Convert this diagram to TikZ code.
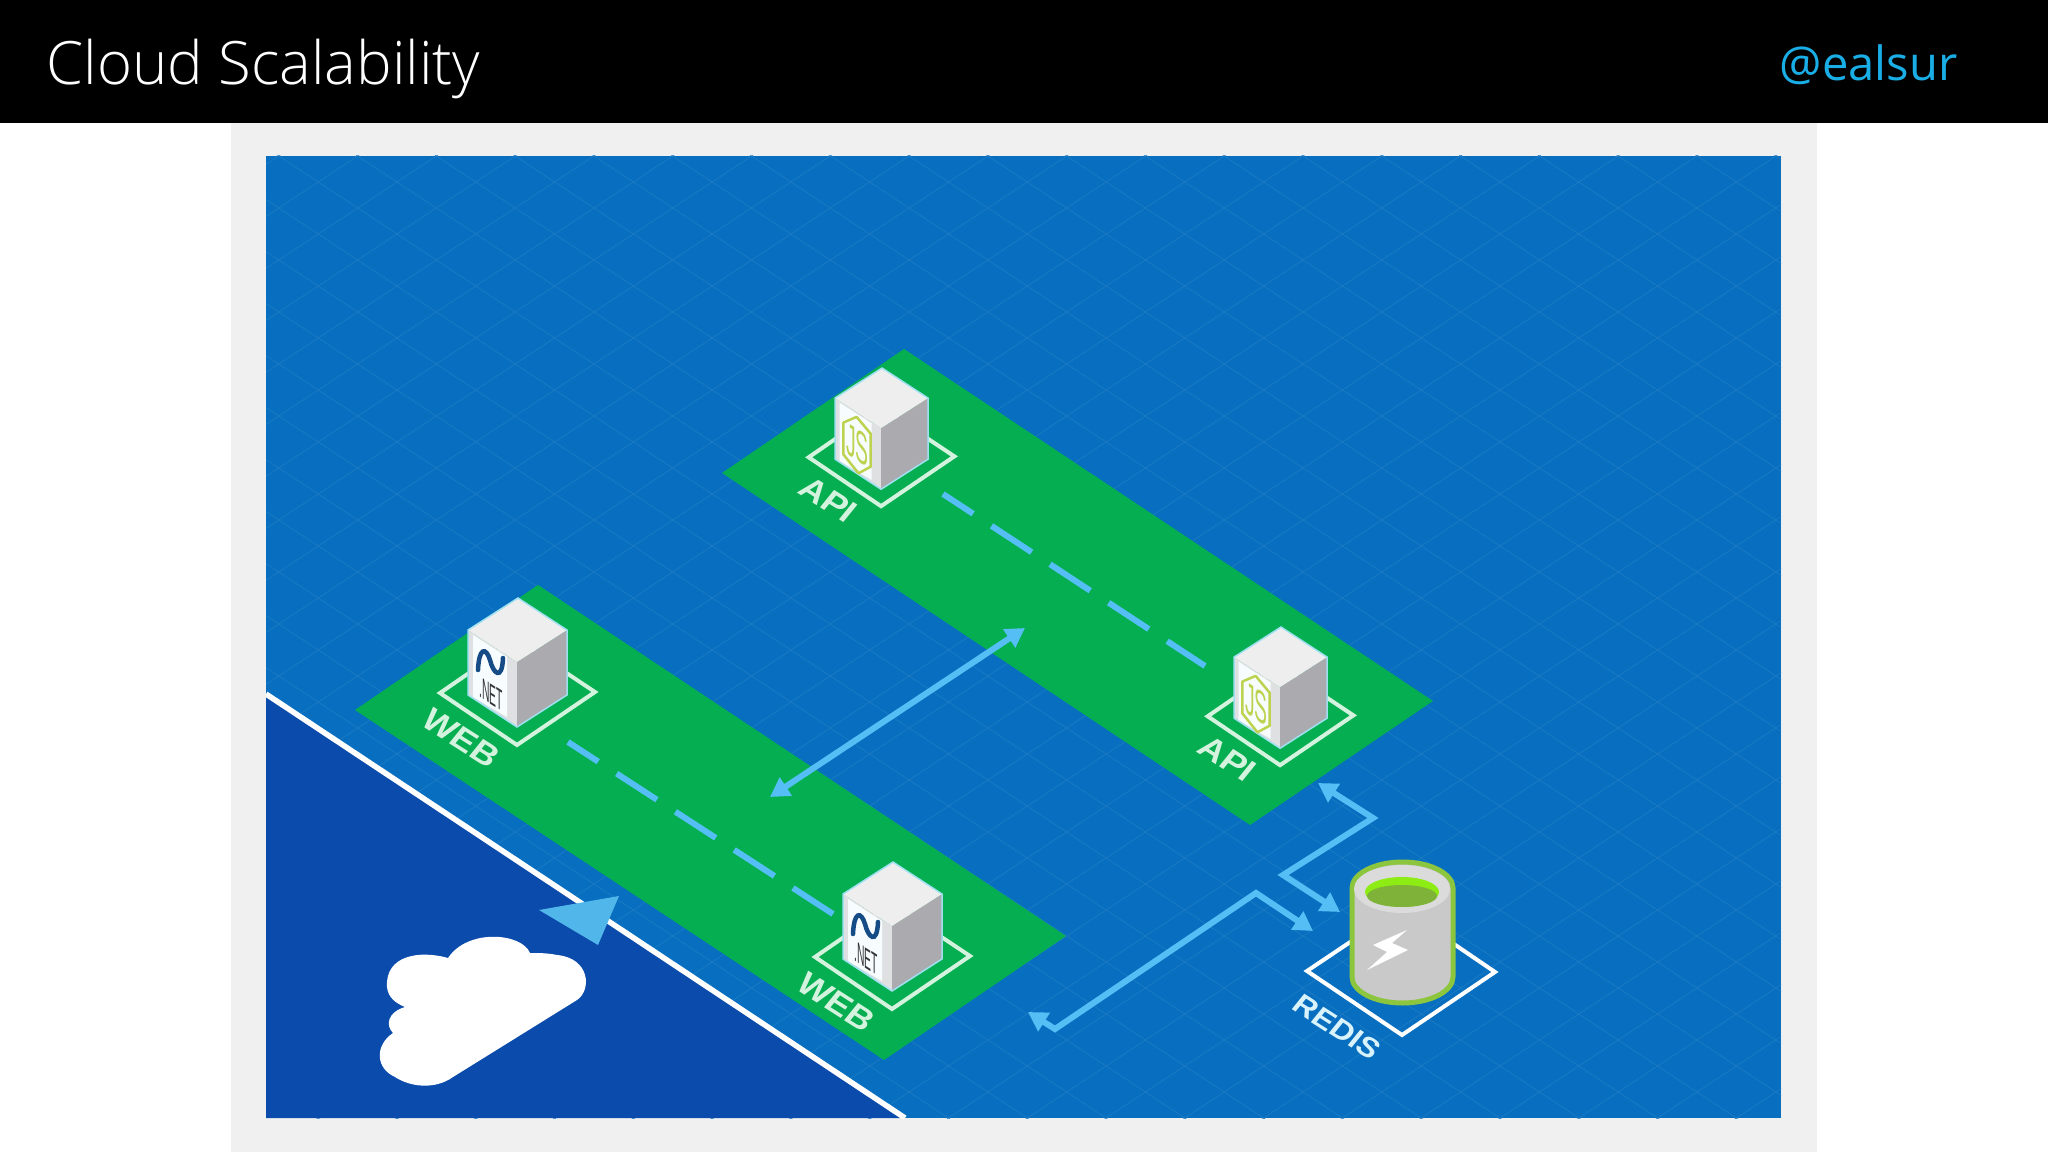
\documentclass[tikz,border=0pt]{standalone}
\usepackage{fontspec}
\usepackage{xcolor}
\usetikzlibrary{arrows.meta}
\newfontfamily\slidefont{Open Sans Light}
\newfontfamily\handlefont{Open Sans}
\newfontfamily\tagfont{Liberation Sans}

\definecolor{headblack}{HTML}{000000}
\definecolor{panelgrey}{HTML}{F0F0F1}
\definecolor{floorblue}{HTML}{086FC0}
\definecolor{gridblue}{HTML}{1F7CC4}
\definecolor{edgeblue}{HTML}{0A4BAB}
\definecolor{padgreen}{HTML}{05AE50}
\definecolor{linkblue}{HTML}{55BFF5}
\definecolor{tagmint}{HTML}{D4F3DE}
\definecolor{handleblue}{HTML}{1AAEE6}
\definecolor{cubetop}{HTML}{EEEEEF}
\definecolor{cubeleft}{HTML}{DFE0E2}
\definecolor{cuberight}{HTML}{ABABAF}
\definecolor{cubeedge}{HTML}{9FE0F0}
\definecolor{jslime}{HTML}{BDD24E}
\definecolor{netblue}{HTML}{164C86}
\definecolor{redisgreen}{HTML}{8CC63F}
\definecolor{redisbody}{HTML}{C9C9C9}

\tikzset{
	tagtext/.style={inner sep=0pt,font=\tagfont\bfseries\fontsize{#1}{12}\selectfont,cm={.8,-.51,.55,.68,(0,0)}},
	linkline/.style={draw=linkblue,line width=.06cm,arrows={Triangle[length=.19cm,width=.21cm]-Triangle[length=.19cm,width=.21cm]}},
	dashline/.style={draw=linkblue,line width=.06cm,dash pattern=on .48cm off .22cm,dash phase=.12cm},
	baseframe/.style={draw=#1,line width=.04cm,line join=miter}
}

\newcommand{\logoweb}{
	\draw[netblue,line width=.045cm,line cap=round] (-40,72) .. controls (-39,49) and (-32,49) .. (-28,62) .. controls (-25,75) and (-16,84) .. (-15,60);
	\node[inner sep=0pt,text=black!80,font=\tagfont\fontsize{7}{8}\selectfont,cm={.42,-.27,0,1.2,(0,0)}] (nettag\x) at (-27,96) {.NET};
}
\newcommand{\logoapi}{
	\draw[jslime,line width=.025cm,line join=round] (-27,52) -- (-12,70) -- (-12,105) -- (-25,112) -- (-41,92) -- (-41,58) -- cycle;
	\node[inner sep=0pt,text=jslime,font=\tagfont\fontsize{10}{11}\selectfont,cm={.55,-.36,0,1.3,(0,0)}] (jstag\x) at (-26,82) {JS};
}

\begin{document}
\begin{tikzpicture}[x=.01cm,y=-.01cm]
	\useasboundingbox (0,0) rectangle (2048,1152);
	\fill[white] (0,0) rectangle (2048,1152);
	\fill[panelgrey] (231,123) rectangle (1817,1152);
	\fill[headblack] (0,0) rectangle (2048,123);
	\node[anchor=base west,inner sep=0pt,text=white,font=\slidefont\fontsize{17}{20}\selectfont] (slidetitle) at (46,85) {Cloud Scalability};
	\node[anchor=base west,inner sep=0pt,text=handleblue,font=\handlefont\fontsize{13.4}{16}\selectfont] (handle) at (1779,81) {@ealsur};

	\begin{scope}
		\clip (266,156) rectangle (1781,1118);
		\fill[floorblue] (266,156) rectangle (1781,1118);
		\foreach \c in {-1300,-1248,...,1100}{
			\draw[gridblue,line width=.006cm] (200,\c) -- (1800,\c+1056);
			\draw[gridblue,line width=.006cm] (200,\c+1300) -- (1800,\c+244);
		}
		\fill[edgeblue] (266,694) -- (905,1118) -- (266,1118) -- cycle;
		\draw[white,line width=.055cm] (266,694) -- (905,1118);
	\end{scope}

	\fill[padgreen] (904,349) -- (1433,701) -- (1250,825) -- (722,473) -- cycle;
	\fill[padgreen] (538,585) -- (1066,936) -- (884,1060) -- (355,710) -- cycle;

	\coordinate (apidashA) at (943,494);
	\coordinate (apidashB) at (1205,666);
	\coordinate (webdashA) at (568,742);
	\coordinate (webdashB) at (833,914);
	\draw[dashline] (apidashA) -- (apidashB);
	\draw[dashline] (webdashA) -- (webdashB);

	\coordinate (crossA) at (770,797);
	\coordinate (crossB) at (1025,628);
	\draw[linkline] (crossA) -- (crossB);

	\coordinate (webtip) at (1028,1012);
	\coordinate (webbend) at (1055,1029);
	\coordinate (webrise) at (1256,893);
	\coordinate (webredis) at (1313,931);
	\draw[linkline,line join=miter] (webtip) -- (webbend) -- (webrise) -- (webredis);

	\coordinate (apitip) at (1318,783);
	\coordinate (apibend) at (1373,818);
	\coordinate (apirise) at (1283,875);
	\coordinate (apiredis) at (1340,912);
	\draw[linkline,line join=miter] (apitip) -- (apibend) -- (apirise) -- (apiredis);

	\fill[linkblue!95!black] (619,896) -- (539,910) -- (598,945) -- cycle;

	% cloud
	\fill[white] (453,1077) -- (577,1000) .. controls (592,990) and (590,958) .. (557,955)
		.. controls (548,953) and (538,953) .. (530,953)
		.. controls (522,933) and (468,928) .. (448,958)
		.. controls (420,950) and (385,955) .. (387,987)
		.. controls (388,997) and (395,1003) .. (405,1007)
		.. controls (388,1012) and (385,1025) .. (393,1033)
		.. controls (375,1045) and (375,1068) .. (395,1077)
		.. controls (410,1087) and (435,1090) .. (453,1077) -- cycle;

	% servers
	\foreach \x/\y/\s/\lab/\logo in {518/598/1/WEB/\logoweb,893/862/1/WEB/\logoweb,882/368/.94/API/\logoapi,1281/627/.94/API/\logoapi}{
		\begin{scope}[shift={(\x,\y)},scale=\s]
			\draw[baseframe=tagmint] (-78,95) -- (-1,147) -- (77,94) -- (-1,42) -- cycle;
			\fill[cubeleft] (-50,32) -- (-1,64) -- (-1,129) -- (-50,97) -- cycle;
			\fill[white!97!cyan] (-45,37) -- (-11,59) -- (-11,119) -- (-45,99) -- cycle;
			\fill[cuberight] (-1,64) -- (49,32) -- (49,97) -- (-1,129) -- cycle;
			\fill[cubetop] (0,0) -- (-50,32) -- (-1,64) -- (49,32) -- cycle;
			\draw[cubeedge,line width=.015cm] (-50,32) -- (0,0) -- (49,32) -- (49,97) -- (-1,129) -- (-50,97) -- cycle;
			\logo
			\node[tagtext=10.6,text=tagmint] (tag\x) at (-57,140) {\lab};
		\end{scope}
	}

	% redis
	\draw[baseframe=white] (1307,971) -- (1402,1035) -- (1495,972) -- (1401,908) -- cycle;
	\draw[redisgreen,line width=.05cm,fill=redisbody] (1352,888) -- (1352,977) arc[start angle=180,end angle=0,x radius=50.5,y radius=26] -- (1453,888) arc[start angle=0,end angle=-180,x radius=50.5,y radius=26] -- cycle;
	\fill[cubetop!92!black] (1402,889) ellipse [x radius=48,y radius=24];
	\fill[lime!75!green!85!gray] (1402,892) ellipse [x radius=37,y radius=15];
	\fill[redisgreen!90!black] (1402,896) ellipse [x radius=35,y radius=11];
	\fill[white] (1407,930) -- (1373,945) -- (1387,952) -- (1367,970) -- (1408,950) -- (1392,943) -- cycle;
	\node[tagtext=9.4,text=white!85!cyan] (redistag) at (1337,1027) {REDIS};
\end{tikzpicture}
\end{document}
